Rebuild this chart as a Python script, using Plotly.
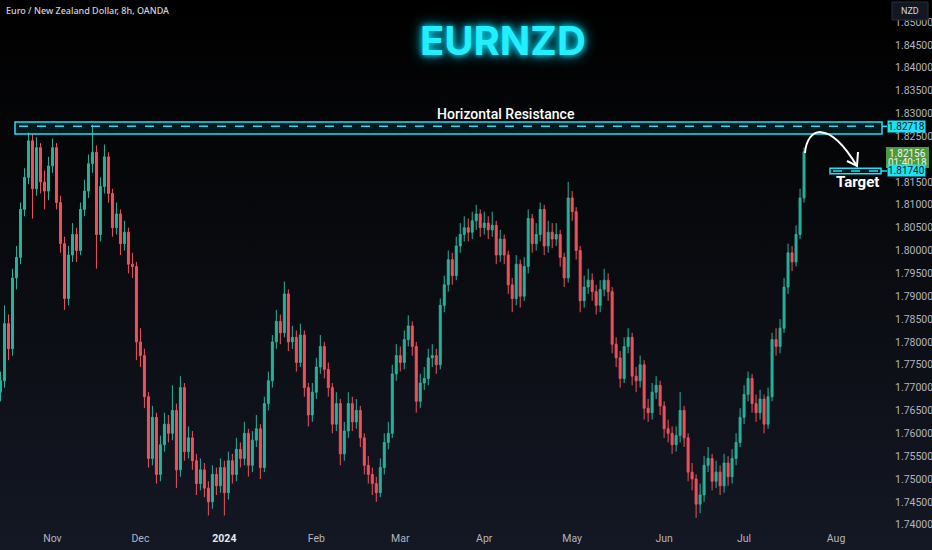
import base64
import pandas as pd
import plotly.graph_objects as go

# ---------------- data (EURNZD daily bars) ----------------
first_open = 1.7690
close = [
    1.7715, 1.7840, 1.7785, 1.7940, 1.7985, 1.8090, 1.8160, 1.8240, 1.8135, 1.8225,
    1.8150, 1.8130, 1.8185, 1.8225, 1.8105, 1.8015, 1.7895, 1.7990, 1.8035, 1.8000,
    1.8090, 1.8130, 1.8190, 1.8215, 1.8035, 1.8140, 1.8205, 1.8125, 1.8050, 1.8080,
    1.8015, 1.8040, 1.7970, 1.7965, 1.7800, 1.7770, 1.7680, 1.7545, 1.7635, 1.7510,
    1.7575, 1.7620, 1.7600, 1.7650, 1.7520, 1.7700, 1.7560, 1.7590, 1.7540, 1.7490,
    1.7520, 1.7480, 1.7450, 1.7510, 1.7485, 1.7525, 1.7470, 1.7540, 1.7510, 1.7565,
    1.7545, 1.7600, 1.7530, 1.7585, 1.7610, 1.7525, 1.7665, 1.7715, 1.7800, 1.7845,
    1.7820, 1.7905, 1.7800, 1.7810, 1.7755, 1.7815, 1.7700, 1.7640, 1.7690, 1.7745,
    1.7790, 1.7740, 1.7700, 1.7620, 1.7665, 1.7555, 1.7605, 1.7665, 1.7625, 1.7650,
    1.7590, 1.7530, 1.7510, 1.7490, 1.7470, 1.7525, 1.7580, 1.7600, 1.7730, 1.7770,
    1.7755, 1.7805, 1.7835, 1.7790, 1.7670, 1.7710, 1.7720, 1.7765, 1.7770, 1.7750,
    1.7880, 1.7925, 1.7980, 1.7945, 1.8010, 1.8035, 1.8050, 1.8040, 1.8065, 1.8080,
    1.8050, 1.8060, 1.8045, 1.8055, 1.7990, 1.8025, 1.7990, 1.7925, 1.7895, 1.7970,
    1.7900, 1.7965, 1.8070, 1.8015, 1.8035, 1.8090, 1.8010, 1.8040, 1.8025, 1.8035,
    1.7985, 1.7940, 1.8115, 1.8085, 1.8000, 1.7890, 1.7920, 1.7935, 1.7910, 1.7880,
    1.7915, 1.7935, 1.7910, 1.7795, 1.7765, 1.7720, 1.7790, 1.7810, 1.7725, 1.7715,
    1.7750, 1.7655, 1.7645, 1.7690, 1.7705, 1.7660, 1.7610, 1.7600, 1.7575, 1.7595,
    1.7650, 1.7590, 1.7515, 1.7500, 1.7445, 1.7465, 1.7530, 1.7545, 1.7495, 1.7515,
    1.7485, 1.7535, 1.7505, 1.7545, 1.7580, 1.7635, 1.7685, 1.7720, 1.7665, 1.7645,
    1.7675, 1.7620, 1.7680, 1.7805, 1.7790, 1.7830, 1.7920, 1.7995, 1.7975, 1.8035,
    1.8115, 1.8216,
]
high = [
    1.7735, 1.7880, 1.7860, 1.7960, 1.8010, 1.8105, 1.8180, 1.8258, 1.8255, 1.8248,
    1.8235, 1.8175, 1.8205, 1.8245, 1.8235, 1.8120, 1.8030, 1.8010, 1.8060, 1.8050,
    1.8105, 1.8155, 1.8210, 1.8275, 1.8230, 1.8160, 1.8232, 1.8215, 1.8135, 1.8105,
    1.8090, 1.8065, 1.8050, 1.7995, 1.7975, 1.7830, 1.7785, 1.7690, 1.7660, 1.7645,
    1.7595, 1.7645, 1.7640, 1.7705, 1.7665, 1.7725, 1.7710, 1.7615, 1.7605, 1.7555,
    1.7545, 1.7535, 1.7495, 1.7530, 1.7525, 1.7545, 1.7540, 1.7560, 1.7555, 1.7590,
    1.7580, 1.7625, 1.7610, 1.7605, 1.7640, 1.7620, 1.7680, 1.7735, 1.7815, 1.7870,
    1.7860, 1.7932, 1.7915, 1.7835, 1.7825, 1.7840, 1.7825, 1.7710, 1.7710, 1.7765,
    1.7815, 1.7800, 1.7755, 1.7710, 1.7690, 1.7675, 1.7625, 1.7690, 1.7680, 1.7675,
    1.7660, 1.7600, 1.7550, 1.7525, 1.7505, 1.7545, 1.7600, 1.7625, 1.7750, 1.7795,
    1.7790, 1.7825, 1.7858, 1.7845, 1.7800, 1.7730, 1.7745, 1.7785, 1.7795, 1.7785,
    1.7895, 1.7945, 1.8000, 1.7995, 1.8030, 1.8060, 1.8075, 1.8070, 1.8085, 1.8100,
    1.8090, 1.8085, 1.8075, 1.8085, 1.8065, 1.8045, 1.8035, 1.8000, 1.7940, 1.7990,
    1.7980, 1.7985, 1.8090, 1.8080, 1.8060, 1.8105, 1.8100, 1.8065, 1.8060, 1.8060,
    1.8045, 1.7995, 1.8150, 1.8130, 1.8095, 1.8010, 1.7945, 1.7960, 1.7950, 1.7925,
    1.7935, 1.7960, 1.7950, 1.7920, 1.7810, 1.7780, 1.7810, 1.7830, 1.7820, 1.7745,
    1.7770, 1.7760, 1.7675, 1.7710, 1.7725, 1.7715, 1.7670, 1.7630, 1.7615, 1.7615,
    1.7690, 1.7660, 1.7600, 1.7535, 1.7510, 1.7490, 1.7550, 1.7570, 1.7555, 1.7540,
    1.7530, 1.7555, 1.7550, 1.7565, 1.7600, 1.7655, 1.7705, 1.7735, 1.7730, 1.7685,
    1.7695, 1.7685, 1.7700, 1.7820, 1.7830, 1.7850, 1.7940, 1.8015, 1.8010, 1.8055,
    1.8135, 1.8225,
]
low = [
    1.7670, 1.7700, 1.7760, 1.7770, 1.7915, 1.7970, 1.8075, 1.8145, 1.8070, 1.8120,
    1.8125, 1.8090, 1.8110, 1.8170, 1.8090, 1.7995, 1.7870, 1.7880, 1.7975, 1.7975,
    1.7990, 1.8075, 1.8115, 1.8170, 1.7960, 1.8020, 1.8125, 1.8105, 1.8030, 1.8035,
    1.7990, 1.8000, 1.7950, 1.7940, 1.7760, 1.7745, 1.7655, 1.7525, 1.7530, 1.7490,
    1.7495, 1.7560, 1.7580, 1.7585, 1.7480, 1.7505, 1.7540, 1.7545, 1.7520, 1.7465,
    1.7475, 1.7460, 1.7420, 1.7435, 1.7465, 1.7470, 1.7420, 1.7455, 1.7490, 1.7495,
    1.7525, 1.7530, 1.7505, 1.7515, 1.7570, 1.7500, 1.7515, 1.7650, 1.7700, 1.7785,
    1.7795, 1.7810, 1.7780, 1.7785, 1.7735, 1.7745, 1.7680, 1.7615, 1.7625, 1.7675,
    1.7730, 1.7720, 1.7680, 1.7600, 1.7605, 1.7530, 1.7540, 1.7590, 1.7605, 1.7610,
    1.7570, 1.7510, 1.7490, 1.7465, 1.7450, 1.7460, 1.7510, 1.7565, 1.7590, 1.7715,
    1.7735, 1.7740, 1.7790, 1.7770, 1.7645, 1.7655, 1.7695, 1.7705, 1.7745, 1.7730,
    1.7740, 1.7865, 1.7910, 1.7925, 1.7935, 1.7995, 1.8020, 1.8020, 1.8025, 1.8045,
    1.8030, 1.8035, 1.8025, 1.8030, 1.7970, 1.7975, 1.7970, 1.7905, 1.7865, 1.7880,
    1.7875, 1.7890, 1.7950, 1.7995, 1.8000, 1.8020, 1.7990, 1.7995, 1.8005, 1.8010,
    1.7965, 1.7920, 1.7930, 1.8065, 1.7980, 1.7865, 1.7875, 1.7905, 1.7890, 1.7860,
    1.7865, 1.7900, 1.7890, 1.7775, 1.7745, 1.7700, 1.7710, 1.7775, 1.7705, 1.7690,
    1.7700, 1.7630, 1.7625, 1.7630, 1.7675, 1.7640, 1.7590, 1.7580, 1.7555, 1.7560,
    1.7580, 1.7570, 1.7495, 1.7475, 1.7415, 1.7425, 1.7450, 1.7515, 1.7475, 1.7480,
    1.7465, 1.7470, 1.7485, 1.7490, 1.7530, 1.7570, 1.7620, 1.7670, 1.7645, 1.7625,
    1.7630, 1.7600, 1.7610, 1.7670, 1.7770, 1.7775, 1.7820, 1.7905, 1.7955, 1.7965,
    1.8025, 1.8105,
]
start_date = "2023-10-13"
month_ticks = ["2023-11-01", "2023-12-01", "2024-01-01", "2024-02-01", "2024-03-01",
               "2024-04-01", "2024-05-01", "2024-06-03", "2024-07-01", "2024-08-01"]
month_labels = ["Nov", "Dec", "<b><span style='color:#e6e8ee'>2024</span></b>", "Feb", "Mar",
                "Apr", "May", "Jun", "Jul", "Aug"]
# price ticks shown on the right scale (1.82000 sits under the live-price tag)
price_ticks = [1.740, 1.745, 1.750, 1.755, 1.760, 1.765, 1.770, 1.775, 1.780, 1.785,
               1.790, 1.795, 1.800, 1.805, 1.810, 1.815, 1.825, 1.830, 1.835,
               1.840, 1.845, 1.850]
resistance_zone = (1.8255, 1.8281)
resistance_price = 1.82718
target_zone = (1.8168, 1.8180)
target_price = 1.81740
last_price = 1.82156
countdown = "01:40:18"

# ---------------- figure ----------------
W, H = 932, 550
dates = pd.bdate_range(start_date, periods=len(close))
opens = [first_open] + close[:-1]

UP = "#26b39c"
DN = "#f0515e"
CYAN = "#1fe0f5"

fig = go.Figure()
fig.add_trace(go.Candlestick(
    x=dates, open=opens, high=high, low=low, close=close,
    increasing=dict(line=dict(color=UP, width=1), fillcolor=UP),
    decreasing=dict(line=dict(color=DN, width=1), fillcolor=DN),
    whiskerwidth=0, hoverinfo="skip", showlegend=False,
))


def px(x):
    return x / W


def py(y):
    return 1 - y / H


def P(x, y):
    return f"{px(x):.5f},{py(y):.5f}"


shapes = []
# resistance zone
shapes.append(dict(type="rect", xref="paper", yref="y", x0=px(15), x1=px(882),
                   y0=resistance_zone[0], y1=resistance_zone[1],
                   line=dict(color=CYAN, width=1.5), fillcolor="rgba(0,200,230,0.10)", layer="above"))
shapes.append(dict(type="line", xref="paper", yref="y", x0=px(19), x1=px(879),
                   y0=resistance_price, y1=resistance_price,
                   line=dict(color=CYAN, width=1.5, dash="dash")))
shapes.append(dict(type="line", xref="paper", yref="y", x0=px(882), x1=px(887),
                   y0=resistance_price, y1=resistance_price, line=dict(color=CYAN, width=1.5)))
# target zone
shapes.append(dict(type="rect", xref="paper", yref="y", x0=px(830), x1=px(881),
                   y0=target_zone[0], y1=target_zone[1],
                   line=dict(color=CYAN, width=1.5), fillcolor="rgba(0,200,230,0.10)"))
shapes.append(dict(type="line", xref="paper", yref="y", x0=px(833), x1=px(878),
                   y0=target_price, y1=target_price,
                   line=dict(color=CYAN, width=1.5, dash="dash")))
shapes.append(dict(type="line", xref="paper", yref="y", x0=px(881), x1=px(887),
                   y0=target_price, y1=target_price, line=dict(color=CYAN, width=1.5)))
# hand-drawn arrow
shapes.append(dict(type="path", xref="paper", yref="paper",
                   path=f"M {P(805,153)} C {P(807,128)} {P(828,118)} {P(857,166)}",
                   line=dict(color="white", width=2)))
shapes.append(dict(type="path", xref="paper", yref="paper",
                   path=f"M {P(858,152)} L {P(857,166)} L {P(847,161)}",
                   line=dict(color="white", width=2)))
# NZD button
shapes.append(dict(type="rect", xref="paper", yref="paper", x0=px(892), x1=px(928),
                   y0=py(20), y1=py(2), line=dict(color="#2a2e39", width=1),
                   fillcolor="#131722"))
# live price tag background
shapes.append(dict(type="rect", xref="paper", yref="paper", x0=px(886), x1=px(929),
                   y0=py(168), y1=py(147), line=dict(width=0), fillcolor="#4c9a3f"))

annotations = [
    dict(text="EURNZD", xref="paper", yref="paper", x=px(503), y=py(40),
         showarrow=False, xanchor="center", yanchor="middle",
         font=dict(family="Inter", size=40, color="#22f0ff", weight=700,
                   shadow="0px 0px 6px #00e1ff, 0px 0px 14px #00b8d4")),
    dict(text="Horizontal Resistance", xref="paper", yref="paper", x=px(506), y=py(114),
         showarrow=False, xanchor="center", yanchor="middle",
         font=dict(family="Roboto", size=14, color="white", weight=500)),
    dict(text="Target", xref="paper", yref="paper", x=px(857), y=py(182),
         showarrow=False, xanchor="center", yanchor="middle",
         font=dict(family="Roboto", size=15, color="white", weight=700)),
    dict(text="Euro / New Zealand Dollar, 8h, OANDA", xref="paper", yref="paper",
         x=px(4), y=py(10), showarrow=False, xanchor="left", yanchor="middle",
         font=dict(family="Noto Sans", size=9, color="#d1d4dc", weight=500)),
    dict(text="NZD", xref="paper", yref="paper", x=px(910), y=py(11),
         showarrow=False, xanchor="center", yanchor="middle",
         font=dict(family="Roboto", size=9, color="#d1d4dc")),
    dict(text=f"{resistance_price:.5f}", xref="paper", yref="y", x=px(887), y=resistance_price,
         showarrow=False, xanchor="left", yanchor="middle", bgcolor=CYAN, borderpad=0,
         font=dict(family="Roboto", size=10, color="#0b1a20")),
    dict(text=f"{last_price:.5f}", xref="paper", yref="paper", x=px(907.5), y=py(153),
         showarrow=False, xanchor="center", yanchor="middle",
         font=dict(family="Roboto", size=10, color="#eef7ea")),
    dict(text=countdown, xref="paper", yref="paper", x=px(907.5), y=py(162.5),
         showarrow=False, xanchor="center", yanchor="middle",
         font=dict(family="Roboto", size=10, color="#eef7ea")),
    dict(text=f"{target_price:.5f}", xref="paper", yref="y", x=px(887), y=target_price,
         showarrow=False, xanchor="left", yanchor="middle", bgcolor=CYAN, borderpad=0,
         font=dict(family="Roboto", size=10, color="#0b1a20")),
]

svg = (f"<svg xmlns='http://www.w3.org/2000/svg' width='{W}' height='{H}'>"
       "<defs><linearGradient id='g' x1='0' y1='0' x2='0' y2='1'>"
       "<stop offset='0' stop-color='#000000'/><stop offset='0.35' stop-color='#07080b'/>"
       "<stop offset='1' stop-color='#141824'/></linearGradient></defs>"
       f"<rect width='{W}' height='{H}' fill='url(#g)'/></svg>")
bg_uri = "data:image/svg+xml;base64," + base64.b64encode(svg.encode()).decode()

top_px, bottom_px = 0, 530
price_at = lambda y: 1.85 - (y - 22) / 4570.0

fig.update_layout(
    width=W, height=H,
    margin=dict(l=0, r=0, t=0, b=0, autoexpand=False),
    paper_bgcolor="#000000", plot_bgcolor="rgba(0,0,0,0)",
    images=[dict(source=bg_uri, xref="paper", yref="paper", x=0, y=1, sizex=1, sizey=1,
                 sizing="stretch", layer="below", xanchor="left", yanchor="top")],
    shapes=shapes, annotations=annotations,
    showlegend=False, hovermode=False,
    font=dict(family="Roboto", color="#b2b5be"),
    xaxis=dict(
        domain=[0, 882 / W], type="date", automargin=False,
        range=["2023-10-12 21:00", "2024-08-16 12:00"],
        rangebreaks=[dict(bounds=["sat", "mon"])],
        rangeslider=dict(visible=False),
        showgrid=False, zeroline=False, showline=False, ticks="",
        tickvals=month_ticks, ticktext=month_labels, tickangle=0,
        tickfont=dict(size=10.5, color="#b2b5be"), fixedrange=True,
    ),
    yaxis=dict(
        domain=[1 - bottom_px / H, 1], side="right", automargin=False,
        range=[price_at(bottom_px), price_at(top_px)],
        tickmode="array", tickvals=price_ticks,
        ticktext=[f"{v:.5f}" for v in price_ticks],
        showgrid=False, zeroline=False, showline=False, ticks="",
        tickfont=dict(size=10.5, color="#b2b5be"), ticklabelstandoff=12,
        fixedrange=True,
    ),
)

fig.write_html(
    "out.html",
    config={"displayModeBar": False},
    post_script="document.body.style.margin='0px';document.body.style.overflow='hidden';"
                "document.body.style.background='#000';",
)
